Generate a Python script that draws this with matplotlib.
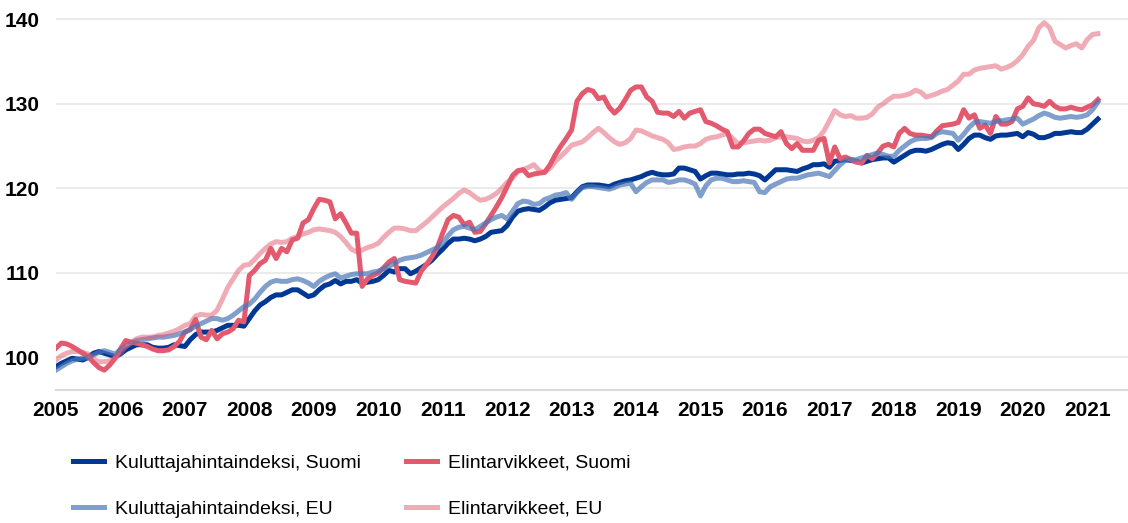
import numpy as np
import matplotlib
matplotlib.use("Agg")
import matplotlib.pyplot as plt

# monthly index values, Jan 2005 - Mar 2021
years = list(range(2005, 2022))

khi_suomi = [
    98.9, 99.3, 99.6, 99.9, 99.8, 99.7, 100.0, 100.5, 100.7, 100.5, 100.3, 100.1,
    100.4, 100.9, 101.2, 101.5, 101.5, 101.5, 101.2, 101.1, 101.1, 101.2, 101.5, 101.4,
    101.3, 102.1, 102.7, 103.0, 103.0, 103.0, 103.2, 103.5, 103.8, 103.8, 103.8, 103.7,
    104.6, 105.5, 106.2, 106.6, 107.1, 107.4, 107.4, 107.7, 108.0, 108.0, 107.6, 107.2,
    107.4, 108.0, 108.5, 108.7, 109.1, 108.7, 109.0, 109.0, 109.2, 108.8, 108.9, 109.0,
    109.2, 109.7, 110.3, 110.1, 110.5, 110.5, 109.9, 110.2, 110.6, 111.0, 111.5, 112.2,
    112.8, 113.5, 114.0, 114.0, 114.1, 114.0, 113.8, 114.0, 114.3, 114.8, 114.9, 115.0,
    115.6, 116.6, 117.3, 117.5, 117.6, 117.5, 117.4, 117.8, 118.3, 118.6, 118.7, 118.8,
    118.9, 119.6, 120.2, 120.4, 120.4, 120.4, 120.3, 120.2, 120.5, 120.7, 120.9, 121.0,
    121.2, 121.4, 121.7, 121.9, 121.7, 121.6, 121.6, 121.7, 122.4, 122.4, 122.2, 122.0,
    121.1, 121.5, 121.8, 121.8, 121.7, 121.6, 121.6, 121.7, 121.7, 121.8, 121.7, 121.5,
    121.0, 121.6, 122.2, 122.2, 122.2, 122.1, 122.0, 122.3, 122.5, 122.8, 122.8, 122.9,
    122.5, 123.2, 123.3, 123.4, 123.3, 123.2, 123.0, 123.2, 123.4, 123.5, 123.6, 123.6,
    123.1, 123.5, 123.9, 124.3, 124.5, 124.5, 124.4, 124.6, 124.9, 125.2, 125.4, 125.3,
    124.6, 125.2, 125.9, 126.3, 126.3, 126.0, 125.8, 126.2, 126.3, 126.3, 126.4, 126.5,
    126.1, 126.6, 126.4, 126.0, 126.0, 126.2, 126.5, 126.5, 126.6, 126.7, 126.6, 126.6,
    127.0, 127.6, 128.2,
]

khi_eu = [
    98.5, 98.9, 99.3, 99.6, 99.8, 99.9, 100.0, 100.3, 100.6, 100.8, 100.6, 100.4,
    100.9, 101.3, 101.7, 102.0, 102.1, 102.2, 102.3, 102.4, 102.4, 102.5, 102.6, 102.8,
    103.0, 103.3, 103.7, 104.0, 104.3, 104.6, 104.6, 104.4, 104.6, 105.0, 105.5, 106.0,
    106.3, 106.9, 107.7, 108.4, 108.9, 109.1, 109.0, 109.0, 109.2, 109.3, 109.1, 108.8,
    108.4, 109.0, 109.4, 109.7, 109.9, 109.4, 109.6, 109.8, 109.9, 109.9, 109.9, 110.1,
    110.2, 110.5, 110.8, 111.1, 111.5, 111.7, 111.8, 111.9, 112.1, 112.4, 112.7, 113.0,
    113.5, 114.4, 115.1, 115.4, 115.5, 115.3, 115.1, 115.5, 115.9, 116.3, 116.6, 116.8,
    116.4, 117.3, 118.2, 118.5, 118.4, 118.1, 118.2, 118.7, 118.9, 119.2, 119.3, 119.5,
    118.7, 119.5, 120.1, 120.2, 120.2, 120.1, 120.0, 119.9, 120.1, 120.4, 120.5, 120.6,
    119.6, 120.2, 120.7, 121.0, 121.0, 121.0, 120.7, 120.8, 121.0, 121.0, 120.8, 120.5,
    119.1, 120.3, 121.0, 121.2, 121.2, 121.0, 120.8, 120.8, 120.9, 120.8, 120.7, 119.6,
    119.5, 120.2, 120.5, 120.8, 121.1, 121.2, 121.2, 121.4, 121.6, 121.7, 121.8, 121.6,
    121.4, 122.1, 122.8, 123.3, 123.4, 123.4, 123.6, 123.8, 124.0, 124.2, 124.0, 123.8,
    123.8, 124.5, 125.0, 125.5, 125.8, 125.9, 125.9, 126.0, 126.5, 126.7, 126.6, 126.5,
    125.7, 126.4, 127.2, 127.8, 127.9, 127.8, 127.7, 127.9, 128.0, 128.1, 128.2, 128.3,
    127.6, 127.9, 128.2, 128.6, 128.9, 128.7, 128.4, 128.3, 128.4, 128.5, 128.4, 128.5,
    128.7, 129.3, 130.2,
]

ruoka_suomi = [
    101.1, 101.7, 101.6, 101.3, 100.9, 100.5, 100.1, 99.4, 98.8, 98.5, 99.1, 99.9,
    101.0, 102.0, 101.8, 101.7, 101.5, 101.3, 101.0, 100.8, 100.8, 100.9, 101.3, 101.9,
    103.0, 103.3, 104.5, 102.4, 102.1, 103.2, 102.2, 102.8, 103.0, 103.4, 104.4, 104.2,
    109.7, 110.3, 111.1, 111.5, 112.9, 111.7, 112.9, 112.5, 113.9, 114.1, 115.9, 116.3,
    117.6, 118.7, 118.6, 118.4, 116.4, 117.0, 115.9, 114.7, 114.7, 108.4, 109.3, 109.7,
    110.0, 110.6, 111.3, 111.7, 109.2, 109.0, 108.9, 108.8, 110.2, 111.0, 111.9, 113.0,
    114.7, 116.3, 116.8, 116.6, 115.7, 116.0, 114.8, 114.9, 115.8, 116.8, 117.8, 118.9,
    120.2, 121.5, 122.1, 122.2, 121.5, 121.7, 121.8, 121.9, 122.8, 124.0, 125.0, 125.9,
    126.9, 130.3, 131.2, 131.7, 131.5, 130.6, 130.8, 129.6, 128.9, 129.5, 130.5, 131.6,
    132.0, 132.0, 130.8, 130.3, 129.0, 128.9, 128.9, 128.5, 129.1, 128.3, 128.9, 129.1,
    129.3, 127.9, 127.7, 127.4, 127.0, 126.7, 124.9, 124.9, 125.6, 126.5, 127.0, 127.0,
    126.5, 126.3, 126.1, 126.7, 125.3, 124.7, 125.3, 124.5, 124.5, 124.5, 125.7, 125.9,
    123.0, 124.9, 123.5, 123.7, 123.4, 123.1, 123.0, 123.9, 123.5, 124.2, 125.0, 125.2,
    124.9, 126.5, 127.1, 126.5, 126.3, 126.3, 126.2, 126.1, 126.8, 127.4, 127.5, 127.6,
    127.8, 129.3, 128.3, 128.7, 127.1, 127.5, 126.5, 128.5, 127.6, 127.6, 127.9, 129.4,
    129.7, 130.7, 130.0, 129.9, 129.7, 130.3, 129.7, 129.4, 129.4, 129.6, 129.4, 129.3,
    129.6, 129.9, 130.5,
]

ruoka_eu = [
    99.7, 100.2, 100.5, 100.7, 100.7, 100.6, 100.4, 99.8, 99.5, 99.5, 99.6, 99.9,
    100.5, 101.3, 101.8, 102.2, 102.4, 102.4, 102.4, 102.6, 102.7, 102.9, 103.1, 103.4,
    103.8, 104.0, 104.9, 105.1, 105.0, 105.0, 105.6, 106.9, 108.3, 109.3, 110.3, 110.9,
    111.0, 111.6, 112.3, 112.9, 113.4, 113.7, 113.6, 113.7, 114.1, 114.3, 114.6, 114.8,
    115.1, 115.2, 115.1, 115.0, 114.8, 114.3, 113.6, 112.8, 112.5, 112.7, 113.0, 113.2,
    113.5, 114.2, 114.8, 115.3, 115.3, 115.2, 115.0, 115.0, 115.5, 116.0, 116.6, 117.2,
    117.8, 118.3, 118.8, 119.4, 119.8, 119.5, 119.0, 118.6, 118.7, 119.0, 119.4, 120.0,
    120.7, 121.2, 122.0, 122.2, 122.5, 122.8, 122.1, 121.9, 122.4, 123.2, 123.8, 124.4,
    125.1, 125.3, 125.5, 126.0, 126.6, 127.1, 126.6, 126.0, 125.5, 125.2, 125.4, 125.9,
    126.9, 126.8, 126.5, 126.2, 126.0, 125.8, 125.4, 124.6, 124.7, 124.9, 125.0, 125.0,
    125.3, 125.8, 126.0, 126.1, 126.3, 126.5, 125.9, 125.3, 125.4, 125.5, 125.6, 125.7,
    125.6, 125.7, 126.0, 126.1, 126.1, 126.0, 125.9, 125.6, 125.5, 125.7, 126.0, 126.8,
    128.0, 129.2, 128.7, 128.5, 128.6, 128.3, 128.3, 128.4, 128.8, 129.6, 130.0, 130.5,
    130.9, 130.9, 131.0, 131.2, 131.6, 131.4, 130.8, 131.0, 131.2, 131.5, 131.7, 132.2,
    132.7, 133.5, 133.5, 134.0, 134.2, 134.3, 134.4, 134.5, 134.1, 134.3, 134.6, 135.1,
    135.8, 136.8, 137.5, 139.0, 139.6, 139.0, 137.4, 137.0, 136.6, 136.9, 137.1, 136.6,
    137.6, 138.2, 138.3,
]

plt.rcParams['font.family'] = ['Liberation Sans', 'DejaVu Sans']

fig = plt.figure(figsize=(11.28, 5.23), dpi=100)
ax = fig.add_axes([0.0496, 0.254, 0.9504, 0.746])

months = np.arange(len(khi_suomi))
lw = 3.6
ax.plot(months, khi_suomi, color='#003893', lw=lw, label='Kuluttajahintaindeksi, Suomi', zorder=3)
ax.plot(months, ruoka_suomi, color='#e35a6f', lw=lw, label='Elintarvikkeet, Suomi', zorder=3)
ax.plot(months, khi_eu, color='#4a76b8', alpha=0.7, lw=lw, label='Kuluttajahintaindeksi, EU', zorder=4)
ax.plot(months, ruoka_eu, color='#e35a6f', alpha=0.5, lw=lw, label='Elintarvikkeet, EU', zorder=4)

ax.set_xlim(0, 199.6)
ax.set_ylim(96.13, 142.28)
ax.set_yticks([100, 110, 120, 130, 140])
ax.set_xticks([12 * i for i in range(len(years))])
ax.set_xticklabels([str(y) for y in years])
ax.grid(axis='y', color='#ebebeb', lw=1.5, zorder=0)
ax.tick_params(length=0, labelsize=15, pad=8)
ax.tick_params(axis='y', pad=12)
for lab in ax.get_xticklabels() + ax.get_yticklabels():
    lab.set_fontweight('bold')
for s in ['top', 'right', 'left']:
    ax.spines[s].set_visible(False)
ax.spines['bottom'].set_color('#d9d9d9')
ax.spines['bottom'].set_linewidth(1.5)

h, l = ax.get_legend_handles_labels()
order = [0, 2, 1, 3]
fig.legend([h[i] for i in order], [l[i] for i in order], ncol=2, frameon=False,
           loc='upper left', bbox_to_anchor=(0.0647, 0.132), fontsize=14,
           handlelength=1.6, handletextpad=0.57, columnspacing=2.3,
           labelspacing=1.47, borderpad=0, borderaxespad=0)

fig.savefig('out.png', dpi=100)
